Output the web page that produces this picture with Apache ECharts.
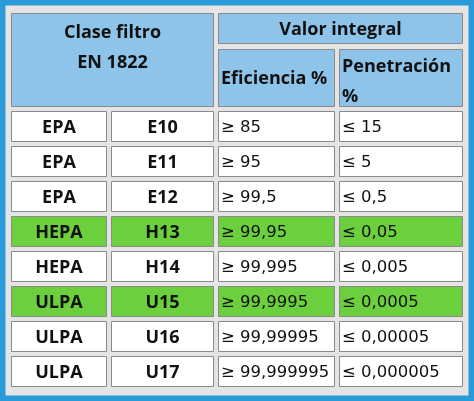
<!DOCTYPE html>
<html>
<head>
<meta charset="utf-8">
<script src="https://cdn.jsdelivr.net/npm/echarts@6/dist/echarts.min.js"></script>
<style>body{margin:0;}</style>
</head>
<body>
<div id="tabla" style="width:474px;height:401px;"></div>
<script type="text/javascript">
// datos de la tabla
var clases = ['EPA', 'EPA', 'EPA', 'HEPA', 'HEPA', 'ULPA', 'ULPA', 'ULPA'];
var grupos = ['E10', 'E11', 'E12', 'H13', 'H14', 'U15', 'U16', 'U17'];
var eficiencia = ['≥ 85', '≥ 95', '≥ 99,5', '≥ 99,95', '≥ 99,995', '≥ 99,9995', '≥ 99,99995', '≥ 99,999995'];
var penetracion = ['≤ 15', '≤ 5', '≤ 0,5', '≤ 0,05', '≤ 0,005', '≤ 0,0005', '≤ 0,00005', '≤ 0,000005'];
var resaltadas = ['H13', 'U15'];

// layout (pixeles)
var colX = [[11, 107], [111, 214], [218, 335], [339, 463]];
var filaY0 = 111, filaAlto = 31, filaPaso = 35;
var azul = '#8ec4e9', verde = '#6ccf3e';

var celdas = [];
celdas.push([11, 214, 13, 107, azul, 'Clase filtro\nEN 1822', 'top', true]);
celdas.push([218, 463, 13, 44, azul, 'Valor integral', 'middle', true]);
celdas.push([218, 335, 49, 107, azul, 'Eficiencia %', 'left', true]);
celdas.push([339, 463, 49, 107, azul, 'Penetración\n%', 'lefttop', true]);
for (var i = 0; i < grupos.length; i++) {
    var y0 = filaY0 + i * filaPaso, y1 = y0 + filaAlto;
    var fill = resaltadas.indexOf(grupos[i]) >= 0 ? verde : '#ffffff';
    celdas.push([colX[0][0], colX[0][1], y0, y1, fill, clases[i], 'middle', true]);
    celdas.push([colX[1][0], colX[1][1], y0, y1, fill, grupos[i], 'middle', true]);
    celdas.push([colX[2][0], colX[2][1], y0, y1, fill, eficiencia[i], 'left', false]);
    celdas.push([colX[3][0], colX[3][1], y0, y1, fill, penetracion[i], 'left', false]);
}

var chart = echarts.init(document.getElementById('tabla'));
chart.setOption({
    backgroundColor: '#e4e4e4',
    animation: false,
    graphic: [{
        type: 'rect', shape: { x: 2.5, y: 2.5, width: 469, height: 396 },
        style: { fill: 'none', stroke: '#2a9bd8', lineWidth: 6 }
    }],
    grid: { left: 0, right: 0, top: 0, bottom: 0 },
    xAxis: { type: 'value', min: 0, max: 474, show: false },
    yAxis: { type: 'value', min: 0, max: 401, inverse: true, show: false },
    series: [{
        type: 'custom',
        data: celdas,
        renderItem: function (params, api) {
            var c = celdas[params.dataIndex];
            var p0 = api.coord([c[0], c[2]]), p1 = api.coord([c[1], c[3]]);
            var w = p1[0] - p0[0], h = p1[1] - p0[1];
            var modo = c[6];
            var tx, ty, align, va;
            if (modo === 'top') { tx = p0[0] + w / 2; ty = p0[1] + 5; align = 'center'; va = 'top'; }
            else if (modo === 'middle') { tx = p0[0] + w / 2; ty = p0[1] + h / 2 + 1; align = 'center'; va = 'middle'; }
            else if (modo === 'lefttop') { tx = p0[0] + 3; ty = p0[1] + 3; align = 'left'; va = 'top'; }
            else { tx = p0[0] + 3; ty = p0[1] + h / 2 + 1; align = 'left'; va = 'middle'; }
            return {
                type: 'group',
                children: [{
                    type: 'rect',
                    shape: { x: p0[0] + 0.5, y: p0[1] + 0.5, width: w - 1, height: h - 1 },
                    style: { fill: c[4], stroke: '#8a8a8a', lineWidth: 1 }
                }, {
                    type: 'text',
                    style: {
                        x: tx, y: ty, text: c[5], align: align, verticalAlign: va,
                        fill: '#111',
                        font: c[7] ? 'bold 18px "Open Sans", sans-serif' : '16.5px "DejaVu Sans", sans-serif',
                        lineHeight: c[7] ? 30 : 20
                    }
                }]
            };
        }
    }]
});
</script>
</body>
</html>
